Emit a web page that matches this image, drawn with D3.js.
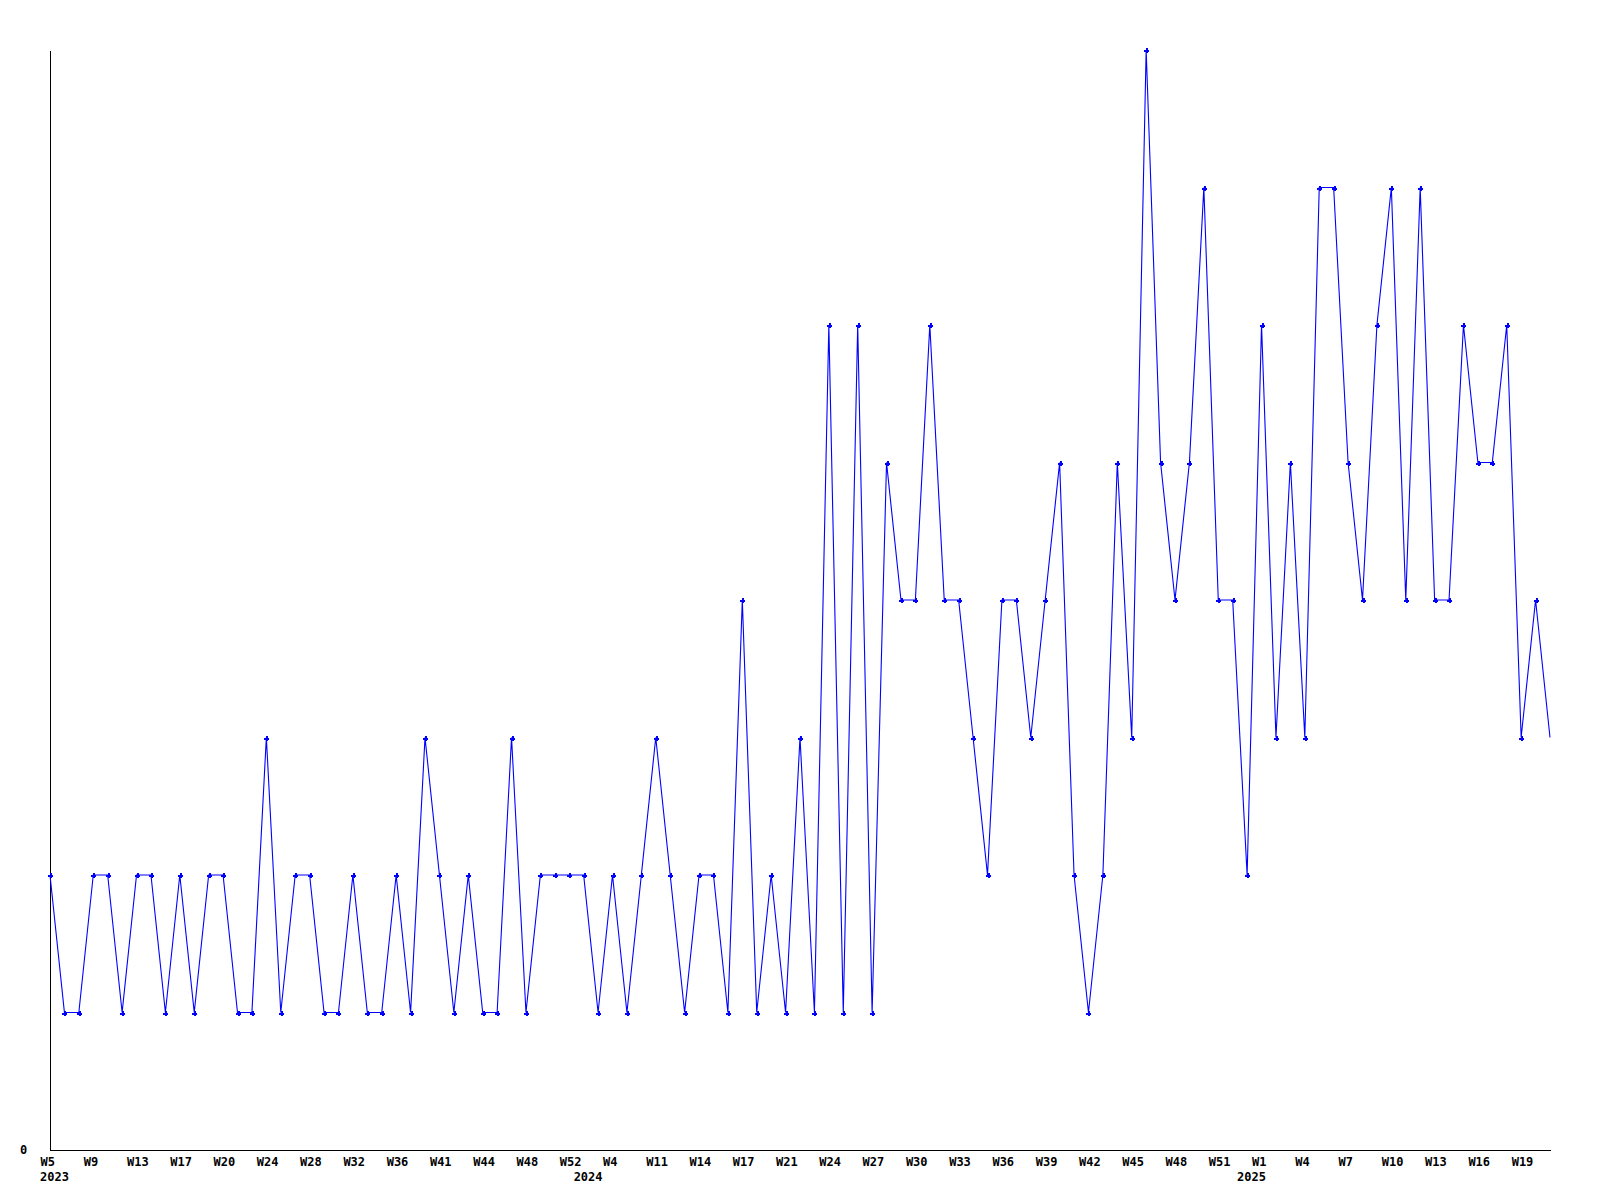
<!DOCTYPE html>
<html>
<head>
<meta charset="utf-8">
<script src="https://cdn.jsdelivr.net/npm/d3@7/dist/d3.min.js"></script>
<style>
  html, body { margin: 0; padding: 0; background: #ffffff; }
  svg { display: block; }
  text { font-family: "DejaVu Sans Mono", "Liberation Mono", monospace; font-weight: bold; font-size: 12px; fill: #000; }
</style>
</head>
<body>
<svg id="chart" width="1600" height="1200"></svg>
<script>
// Weekly counts (one value per observation, in order)
const values = [
  2,1,1,2,2,1,2,2,1,2,
  1,2,2,1,1,3,1,2,2,1,
  1,2,1,1,2,1,3,2,1,2,
  1,1,3,1,2,2,2,2,1,2,
  1,2,3,2,1,2,2,1,4,1,
  2,1,3,1,6,1,6,1,5,4,
  4,6,4,4,3,2,4,4,3,4,
  5,2,1,2,5,3,8,5,4,5,
  7,4,4,2,6,3,5,3,7,7,
  5,4,6,7,4,7,4,4,6,5,
  5,6,3,4,3
];

// Week labels shown on every third observation
const tickStep = 3;
const tickLabels = [
  "W5","W9","W13","W17","W20","W24","W28","W32","W36","W41","W44","W48","W52",
  "W4","W11","W14","W17","W21","W24","W27","W30","W33","W36","W39","W42","W45","W48","W51",
  "W1","W4","W7","W10","W13","W16","W19"
];

// Year labels and the observation index they sit under
const yearLabels = ["2023","2024","2025"];
const yearIndex = [0, 37, 83];

const yTicks = [0];
const yMax = 8;

(function draw() {
  const svg = d3.select("#chart");
  const mLeft = 50, mRight = 1550, mTop = 50, mBottom = 1150;

  const x = d3.scaleLinear().domain([0, values.length - 1]).range([mLeft, mRight]);
  const y = d3.scaleLinear().domain([0, yMax]).range([mBottom, mTop]);

  // X axis
  const tickIdx = tickLabels.map((d, i) => i * tickStep);
  const xAxis = d3.axisBottom(x)
    .tickValues(tickIdx)
    .tickSize(0)
    .tickSizeOuter(0)
    .tickFormat((d, i) => tickLabels[i]);

  const gx = svg.append("g")
    .attr("transform", `translate(0,${mBottom})`)
    .call(xAxis);
  gx.select(".domain").attr("stroke", "#000").attr("shape-rendering", "crispEdges");
  gx.selectAll(".tick text")
    .attr("text-anchor", "start")
    .attr("x", -10)
    .attr("y", 16)
    .attr("dy", 0)
    .attr("fill", "#000")
    .style("font-family", "'DejaVu Sans Mono', monospace")
    .style("font-size", "12px")
    .style("font-weight", "bold");

  // Year labels
  svg.append("g").selectAll("text")
    .data(yearLabels)
    .join("text")
    .attr("x", (d, i) => x(yearIndex[i]) - 10)
    .attr("y", mBottom + 31)
    .text(d => d);

  // Y axis
  const yAxis = d3.axisLeft(y)
    .tickValues(yTicks)
    .tickSize(0)
    .tickSizeOuter(0)
    .tickFormat(d3.format("d"));
  const gy = svg.append("g")
    .attr("transform", `translate(${mLeft},0)`)
    .call(yAxis);
  gy.select(".domain").attr("stroke", "#000").attr("shape-rendering", "crispEdges");
  gy.selectAll(".tick text")
    .attr("text-anchor", "start")
    .attr("x", -30)
    .attr("y", 3.5)
    .attr("dy", 0)
    .attr("fill", "#000")
    .style("font-family", "'DejaVu Sans Mono', monospace")
    .style("font-size", "12px")
    .style("font-weight", "bold");

  // Line
  const line = d3.line()
    .x((d, i) => x(i))
    .y(d => y(d));

  svg.append("path")
    .datum(values)
    .attr("fill", "none")
    .attr("stroke", "#0000ff")
    .attr("stroke-width", 1.1)
    .attr("d", line);

  // Markers (small plus); last observation drawn without marker
  const plus = "M-1,-2.5h2v1.5h1.5v2h-1.5v1.5h-2v-1.5h-1.5v-2h1.5z";
  svg.append("g").selectAll("path")
    .data(values.slice(0, -1))
    .join("path")
    .attr("transform", (d, i) => `translate(${Math.round(x(i)) + 0.5},${Math.round(y(d)) + 0.5})`)
    .attr("d", plus)
    .attr("fill", "#0000ff")
    .attr("shape-rendering", "crispEdges");
})();
</script>
</body>
</html>
